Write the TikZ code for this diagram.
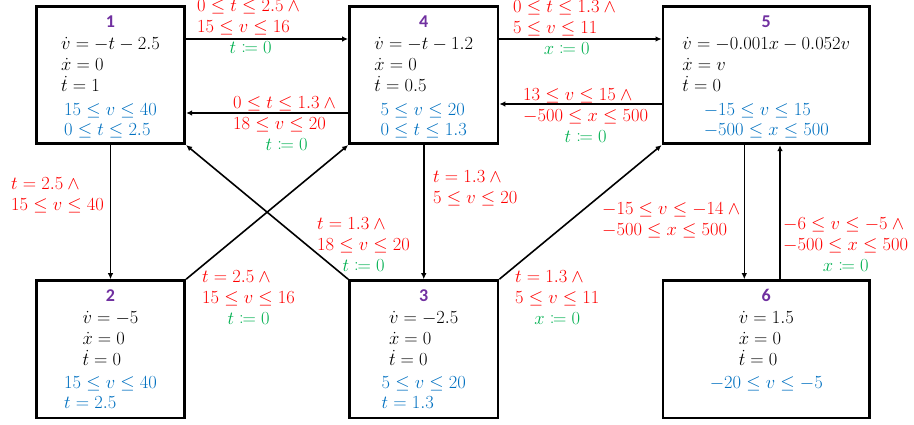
\RequirePackage{fix-cm}
\documentclass[tikz,border=0pt]{standalone}
\usepackage{mathtools}
\usepackage{fontspec}
\newfontfamily\ttlfont{Carlito}
\usetikzlibrary{arrows.meta}
\definecolor{cred}{HTML}{FF0000}
\definecolor{cgreen}{HTML}{00B050}
\definecolor{cblue}{HTML}{0070C0}
\definecolor{cpurple}{HTML}{7030A0}
\newcommand\mblock[1]{\begin{tabular}[t]{@{}l@{}}#1\end{tabular}}
\newcommand\labthree[3]{\begin{tabular}[t]{@{}l@{}}$#1$\\$#2$\\\multicolumn{1}{@{}c@{}}{\color{cgreen}$#3$}\end{tabular}}
\newcommand\labtwo[2]{\begin{tabular}[t]{@{}l@{}}$#1$\\$#2$\end{tabular}}
\begin{document}
\begin{tikzpicture}[x=1pt,y=-1pt,
  box/.style={draw, line width=2.7pt, minimum width=148.5pt, minimum height=137.5pt, inner sep=0pt},
  widebox/.style={box, minimum width=206.7pt},
  arr/.style={-{Latex[length=6pt,width=5.5pt]}, line width=1.6pt},
  ttl/.style={anchor=base, inner sep=0pt, text=cpurple, font=\ttlfont\bfseries\fontsize{18}{21}\selectfont},
  blk/.style={anchor=base, inner sep=0pt, text=black, font=\fontsize{18.5}{21}\selectfont},
  bblk/.style={anchor=base, inner sep=0pt, text=cblue, font=\fontsize{18.5}{20}\selectfont},
  lab/.style={anchor=base west, inner sep=0pt, text=cred, font=\fontsize{18.5}{21}\selectfont}]
\useasboundingbox (0,0) rectangle (914,424);

% boxes
\node[box] (b1) at (110.5,75) {};
\node[box] (b4) at (423.75,75) {};
\node[widebox] (b5) at (766.3,75) {};
\node[box] (b2) at (110.5,349.3) {};
\node[box] (b3) at (423.75,349.3) {};
\node[widebox] (b6) at (766.3,349.3) {};

% box contents
\node[ttl] (t1) at (110.5,27) {1};
\node[blk] (k1) at (110.5,49) {\mblock{$\dot v = -t - 2.5$\\ $\dot x = 0$\\ $\dot t = 1$}};
\node[bblk] (i1) at (110.5,115) {\mblock{$15 \le v \le 40$\\ $0 \le t \le 2.5$}};

\node[ttl] (t4) at (423.75,27) {4};
\node[blk] (k4) at (423.75,49) {\mblock{$\dot v = -t - 1.2$\\ $\dot x = 0$\\ $\dot t = 0.5$}};
\node[bblk] (i4) at (423.75,115) {\mblock{$5 \le v \le 20$\\ $0 \le t \le 1.3$}};

\node[ttl] (t5) at (766.3,27) {5};
\node[blk] (k5) at (766.3,49) {\mblock{$\dot v = -0.001x - 0.052v$\\ $\dot x = v$\\ $\dot t = 0$}};
\node[bblk] (i5) at (766.3,115) {\mblock{$-15 \le v \le 15$\\ $-500 \le x \le 500$}};

\node[ttl] (t2) at (110.5,301.5) {2};
\node[blk] (k2) at (110.5,323) {\mblock{$\dot v = -5$\\ $\dot x = 0$\\ $\dot t = 0$}};
\node[bblk] (i2) at (110.5,388) {\mblock{$15 \le v \le 40$\\ $t = 2.5$}};

\node[ttl] (t3) at (423.75,301.5) {3};
\node[blk] (k3) at (423.75,323) {\mblock{$\dot v = -2.5$\\ $\dot x = 0$\\ $\dot t = 0$}};
\node[bblk] (i3) at (423.75,388) {\mblock{$5 \le v \le 20$\\ $t = 1.3$}};

\node[ttl] (t6) at (766.3,301.5) {6};
\node[blk] (k6) at (766.3,323) {\mblock{$\dot v = 1.5$\\ $\dot x = 0$\\ $\dot t = 0$}};
\node[bblk] (i6) at (766.3,388) {\mblock{$-20 \le v \le -5$}};

% connectors
\draw[arr] ([yshift=36pt]b1.east) -- ([yshift=36pt]b4.west);
\draw[arr] ([yshift=-38pt]b4.west) -- ([yshift=-38pt]b1.east);
\draw[arr] ([yshift=36pt]b4.east) -- ([yshift=36pt]b5.west);
\draw[arr] ([yshift=-29pt]b5.west) -- ([yshift=-29pt]b4.east);
\draw[arr] (b1.south) -- (b2.north);
\draw[arr] (b4.south) -- (b3.north);
\draw[arr] (b2.north east) -- (b4.south west);
\draw[arr] (b3.north west) -- (b1.south east);
\draw[arr] (b3.north east) -- (b5.south west);
\draw[arr] ([xshift=-22pt]b5.south) -- ([xshift=-22pt]b6.north);
\draw[arr] ([xshift=13.7pt]b6.north) -- ([xshift=13.7pt]b5.south);

% labels
\node[lab] (l14) at (197,11) {\labthree{0 \le t \le 2.5 \wedge{}}{15 \le v \le 16}{t \coloneqq 0}};
\node[lab] (l41) at (233,108) {\labthree{0 \le t \le 1.3 \wedge{}}{18 \le v \le 20}{t \coloneqq 0}};
\node[lab] (l45) at (513,12) {\labthree{0 \le t \le 1.3 \wedge{}}{5 \le v \le 11}{x \coloneqq 0}};
\node[lab] (l54) at (523,100) {\labthree{13 \le v \le 15 \wedge{}}{-500 \le x \le 500}{t \coloneqq 0}};
\node[lab] (l12) at (11,189) {\labtwo{t = 2.5 \wedge{}}{15 \le v \le 40}};
\node[lab] (l24) at (202,282) {\labthree{t = 2.5 \wedge{}}{15 \le v \le 16}{t \coloneqq 0}};
\node[lab] (l31) at (317,229) {\labthree{t = 1.3 \wedge{}}{18 \le v \le 20}{t \coloneqq 0}};
\node[lab] (l43) at (433,182) {\labtwo{t = 1.3 \wedge{}}{5 \le v \le 20}};
\node[lab] (l35) at (515,282) {\labthree{t = 1.3 \wedge{}}{5 \le v \le 11}{x \coloneqq 0}};
\node[lab] (l56) at (602,214) {\labtwo{-15 \le v \le -14 \wedge{}}{-500 \le x \le 500}};
\node[lab] (l65) at (783,229) {\labthree{-6 \le v \le -5 \wedge{}}{-500 \le x \le 500}{x \coloneqq 0}};
\end{tikzpicture}
\end{document}
